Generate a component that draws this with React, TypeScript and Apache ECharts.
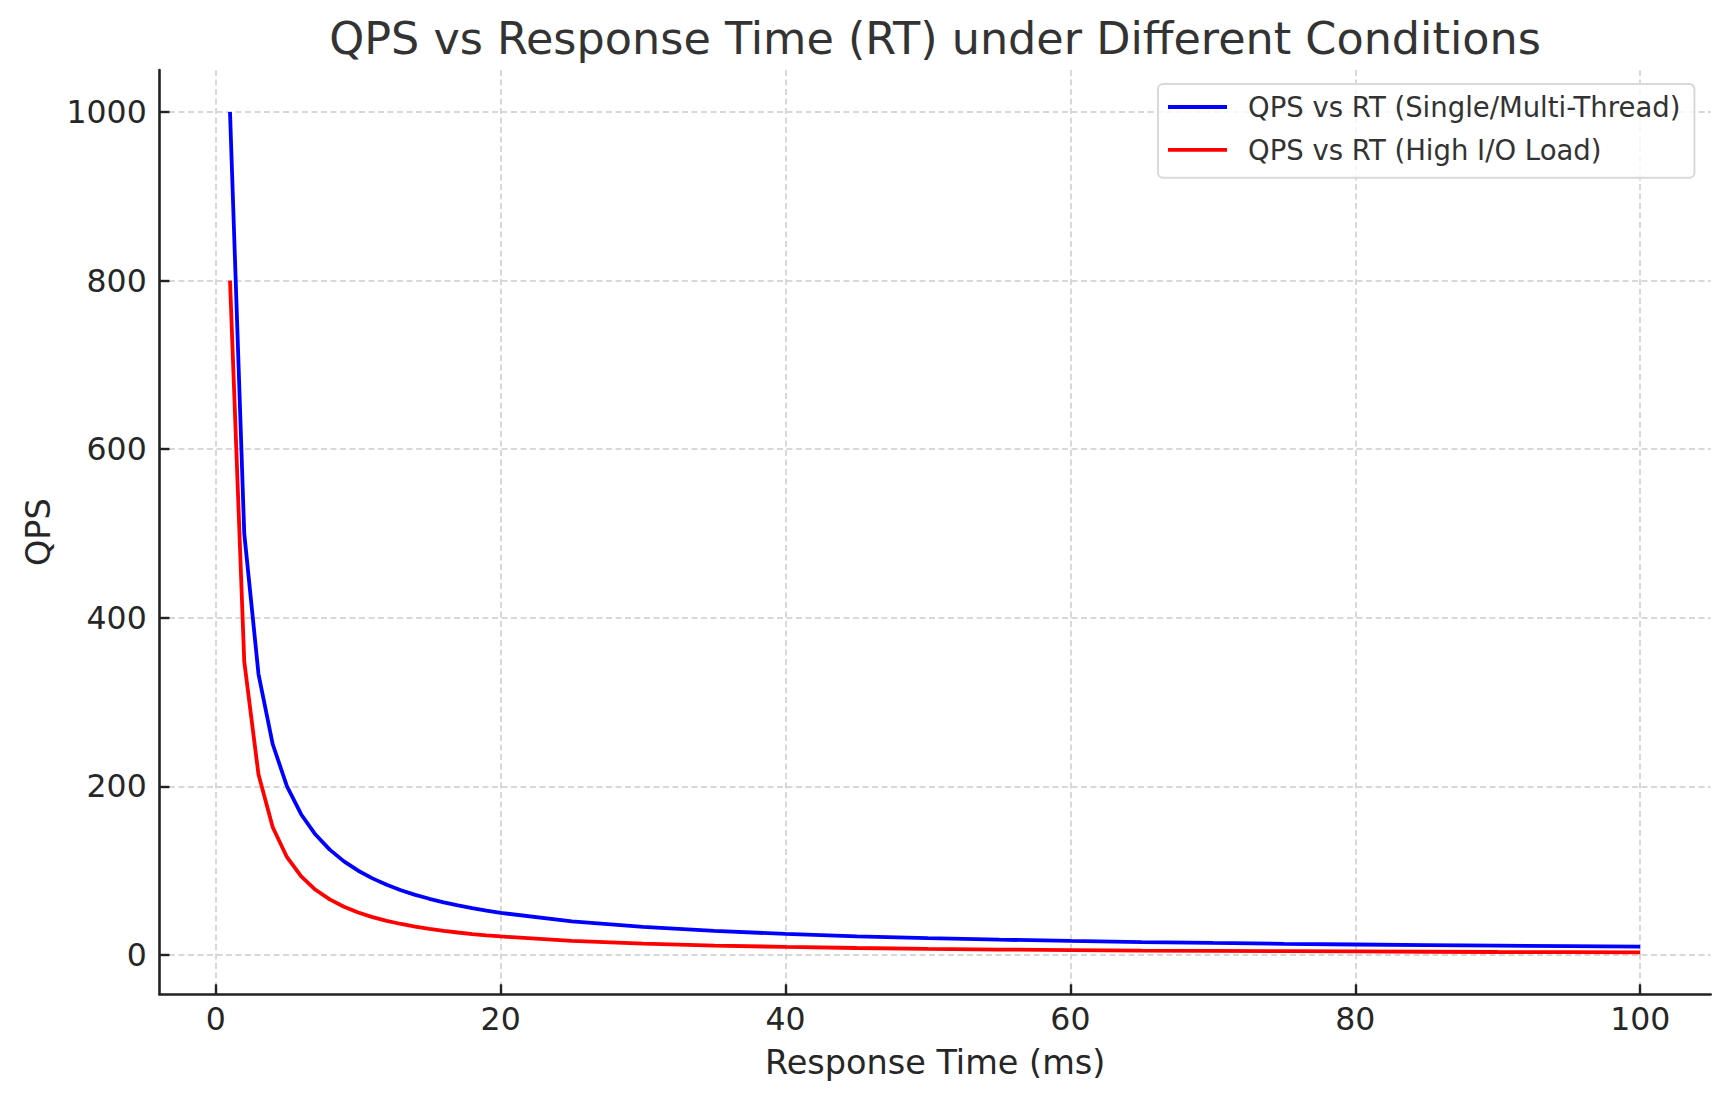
import React, { useEffect, useRef } from "react";
import * as echarts from "echarts";

// Response time (ms) sample points
const rtValues = [
  1, 2, 3, 4, 5, 6, 7, 8, 9, 10, 11, 12, 13, 14, 15, 16, 17, 18, 19, 20,
  25, 30, 35, 40, 45, 50, 55, 60, 65, 70, 75, 80, 85, 90, 95, 100,
];

// QPS vs RT (Single/Multi-Thread)
const qpsSingleMulti = [
  1000, 500, 333.3, 250, 200, 166.7, 142.9, 125, 111.1, 100, 90.9, 83.3, 76.9,
  71.4, 66.7, 62.5, 58.8, 55.6, 52.6, 50, 40, 33.3, 28.6, 25, 22.2, 20, 18.2,
  16.7, 15.4, 14.3, 13.3, 12.5, 11.8, 11.1, 10.5, 10,
];

// QPS vs RT (High I/O Load)
const qpsHighIO = [
  800, 348.2, 214.1, 151.6, 116.0, 93.2, 77.4, 66.0, 57.3, 50.5, 45.0, 40.5,
  36.8, 33.7, 31.0, 28.7, 26.7, 24.9, 23.4, 22.0, 16.8, 13.5, 11.2, 9.6, 8.3,
  7.3, 6.5, 5.9, 5.3, 4.9, 4.5, 4.2, 3.9, 3.6, 3.4, 3.2,
];

const xTicks = [0, 20, 40, 60, 80, 100];
const yTicks = [0, 200, 400, 600, 800, 1000];

const seriesNames = ["QPS vs RT (Single/Multi-Thread)", "QPS vs RT (High I/O Load)"];
const FONT = "DejaVu Sans";

export default function App() {
  const ref = useRef<HTMLDivElement>(null);

  useEffect(() => {
    if (!ref.current) return;
    const chart = echarts.init(ref.current, undefined, { renderer: "svg" });

    const gridLine = { show: true, lineStyle: { color: "#cccccc", width: 1.5, type: [6, 3.5] } };
    const axisLine = { show: true, onZero: false, lineStyle: { color: "#222222", width: 2.6 } };
    const plain = (v: number) => String(v);

    chart.setOption({
      animation: false,
      backgroundColor: "#ffffff",
      title: {
        text: "QPS vs Response Time (RT) under Different Conditions",
        left: 935,
        top: 16,
        textAlign: "center",
        padding: 0,
        textStyle: { fontFamily: FONT, fontSize: 44.5, fontWeight: "normal", color: "#333333" },
      },
      legend: {
        orient: "vertical",
        left: 1158,
        top: 84,
        padding: [9, 14, 14, 10],
        itemGap: 14.8,
        itemWidth: 59,
        itemHeight: 3.8,
        backgroundColor: "rgba(255,255,255,0.8)",
        borderColor: "#d9d9d9",
        borderWidth: 2,
        borderRadius: 5,
        data: seriesNames.map((n) => ({ name: n, icon: "rect" })),
        textStyle: { fontFamily: FONT, fontSize: 27.5, color: "#333333", padding: [0, 0, 0, 16] },
      },
      grid: { left: 159.5, right: 17.3, top: 70, bottom: 106.7 },
      xAxis: {
        type: "value",
        min: -3.95,
        max: 104.95,
        name: "Response Time (ms)",
        nameLocation: "middle",
        nameGap: 51,
        nameTextStyle: { fontFamily: FONT, fontSize: 33.5, color: "#262626" },
        axisLine,
        axisTick: { show: true, inside: true, length: 10, customValues: xTicks, lineStyle: { color: "#222222", width: 2.4 } },
        axisLabel: { show: true, customValues: xTicks, formatter: plain, margin: 9, fontFamily: FONT, fontSize: 31.5, color: "#262626" },
        splitLine: gridLine,
      },
      yAxis: {
        type: "value",
        min: -46.6,
        max: 1049.8,
        name: "QPS",
        nameLocation: "middle",
        nameGap: 97.5,
        nameRotate: 90,
        nameTextStyle: { fontFamily: FONT, fontSize: 33.5, color: "#262626" },
        axisLine,
        axisTick: { show: true, inside: true, length: 10, customValues: yTicks, lineStyle: { color: "#222222", width: 2.4 } },
        axisLabel: { show: true, customValues: yTicks, formatter: plain, margin: 12.8, fontFamily: FONT, fontSize: 31.5, color: "#262626" },
        splitLine: gridLine,
      },
      series: [
        {
          name: seriesNames[0],
          type: "line",
          data: rtValues.map((x, i) => [x, qpsSingleMulti[i]]),
          showSymbol: false,
          symbol: "none",
          color: "#0000ff",
          lineStyle: { color: "#0000ff", width: 3.8 },
          z: 3,
        },
        {
          name: seriesNames[1],
          type: "line",
          data: rtValues.map((x, i) => [x, qpsHighIO[i]]),
          showSymbol: false,
          symbol: "none",
          color: "#ff0000",
          lineStyle: { color: "#ff0000", width: 3.8 },
          z: 4,
        },
      ],
    });

    return () => chart.dispose();
  }, []);

  return (
    <div
      ref={ref}
      style={{ position: "fixed", left: 0, top: 0, width: 1728, height: 1101, background: "#ffffff" }}
    />
  );
}
